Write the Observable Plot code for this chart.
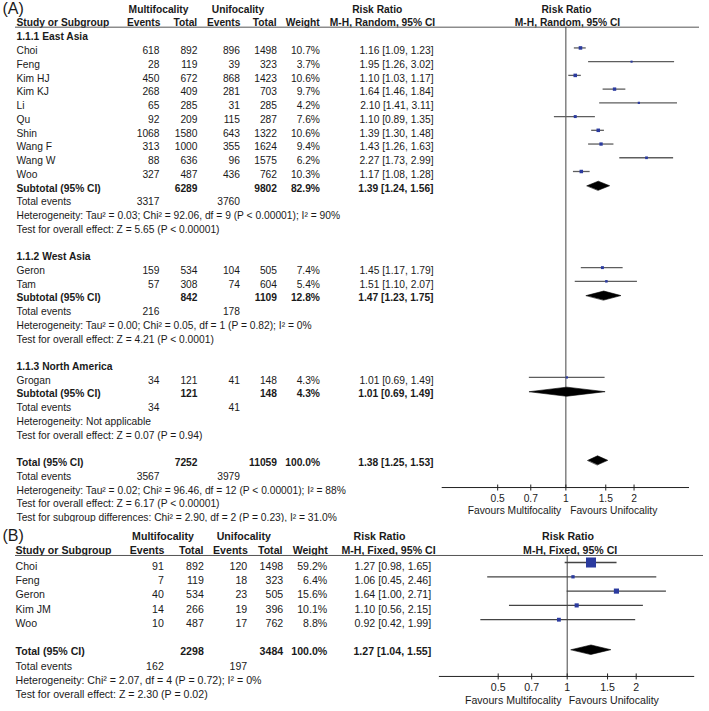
<!DOCTYPE html>
<html><head><meta charset="utf-8">
<script src="https://cdn.jsdelivr.net/npm/d3@7"></script>
<script src="https://cdn.jsdelivr.net/npm/@observablehq/plot@0.6"></script>
<style>
body{margin:0;background:#fff;}
#chart svg{display:block;overflow:hidden;}
</style></head><body><div id="chart"></div>
<script>
// ---------- Panel A data ----------
const subgroupsA = ["1.1.1 East Asia", "1.1.2 West Asia", "1.1.3 North America"];
const studiesA = ["Choi","Feng","Kim HJ","Kim KJ","Li","Qu","Shin","Wang F","Wang W","Woo","Geron","Tam","Grogan"];
const subgroupOfA = [0,0,0,0,0,0,0,0,0,0,1,1,2];
const multiEventsA = [618,28,450,268,65,92,1068,313,88,327,159,57,34];
const multiTotalA  = [892,119,672,409,285,209,1580,1000,636,487,534,308,121];
const uniEventsA   = [896,39,868,281,31,115,643,355,96,436,104,74,41];
const uniTotalA    = [1498,323,1423,703,285,287,1322,1624,1575,762,505,604,148];
const weightA      = [10.7,3.7,10.6,9.7,4.2,7.6,10.6,9.4,6.2,10.3,7.4,5.4,4.3];
const rrA          = [1.16,1.95,1.10,1.64,2.10,1.10,1.39,1.43,2.27,1.17,1.45,1.51,1.01];
const loA          = [1.09,1.26,1.03,1.46,1.41,0.89,1.30,1.26,1.73,1.08,1.17,1.10,0.69];
const hiA          = [1.23,3.02,1.17,1.84,3.11,1.35,1.48,1.63,2.99,1.28,1.79,2.07,1.49];
const subMultiTotalA  = [6289, 842, 121];
const subUniTotalA    = [9802, 1109, 148];
const subWeightA      = [82.9, 12.8, 4.3];
const subRrA          = [1.39, 1.47, 1.01];
const subLoA          = [1.24, 1.23, 0.69];
const subHiA          = [1.56, 1.75, 1.49];
const subMultiEventsA = [3317, 216, 34];
const subUniEventsA   = [3760, 178, 41];
const subHetA = [
  "Heterogeneity: Tau² = 0.03; Chi² = 92.06, df = 9 (P < 0.00001); I² = 90%",
  "Heterogeneity: Tau² = 0.00; Chi² = 0.05, df = 1 (P = 0.82); I² = 0%",
  "Heterogeneity: Not applicable"];
const subTestA = [
  "Test for overall effect: Z = 5.65 (P < 0.00001)",
  "Test for overall effect: Z = 4.21 (P < 0.0001)",
  "Test for overall effect: Z = 0.07 (P = 0.94)"];
const totalCountsA = [7252, 11059];
const totalWeightA = 100.0;
const totalRrA = [1.38, 1.25, 1.53];
const totalEventsA = [3567, 3979];
const totalTextsA = [
  "Heterogeneity: Tau² = 0.02; Chi² = 96.46, df = 12 (P < 0.00001); I² = 88%",
  "Test for overall effect: Z = 6.17 (P < 0.00001)",
  "Test for subgroup differences: Chi² = 2.90, df = 2 (P = 0.23), I² = 31.0%"];

// ---------- Panel B data ----------
const studiesB = ["Choi","Feng","Geron","Kim JM","Woo"];
const multiEventsB = [91,7,40,14,10];
const multiTotalB  = [892,119,534,266,487];
const uniEventsB   = [120,18,23,19,17];
const uniTotalB    = [1498,323,505,396,762];
const weightB      = [59.2,6.4,15.6,10.1,8.8];
const rrB          = [1.27,1.06,1.64,1.10,0.92];
const loB          = [0.98,0.45,1.00,0.56,0.42];
const hiB          = [1.65,2.46,2.71,2.15,1.99];
const totalCountsB = [2298, 3484];
const totalWeightB = 100.0;
const totalRrB = [1.27, 1.04, 1.55];
const totalEventsB = [162, 197];
const totalTextsB = [
  "Heterogeneity: Chi² = 2.07, df = 4 (P = 0.72); I² = 0%",
  "Test for overall effect: Z = 2.30 (P = 0.02)"];

// ---------- labels ----------
const groupHeaders = ["Multifocality", "Unifocality", "Risk Ratio", "Risk Ratio"];
const colHeaders = ["Study or Subgroup", "Events", "Total", "Events", "Total", "Weight"];
const methodA = "M-H, Random, 95% CI";
const methodB = "M-H, Fixed, 95% CI";
const axisTicks = [0.5, 0.7, 1, 1.5, 2];
const favours = ["Favours Multifocality", "Favours Unifocality"];

const f2 = v => v.toFixed(2);
const rrText = (r, l, h) => `${f2(r)} [${f2(l)}, ${f2(h)}]`;
const pct = w => `${w.toFixed(1)}%`;

// ---------- build rows A ----------
const rowsA = [], studyRowsA = [], summaryA = [];
{
  let r = 0;
  subgroupsA.forEach((g, gi) => {
    rowsA.push({row: r++, name: g, bold: true});
    studiesA.forEach((s, i) => {
      if (subgroupOfA[i] !== gi) return;
      const o = {row: r++, name: s, mE: String(multiEventsA[i]), mT: String(multiTotalA[i]),
        uE: String(uniEventsA[i]), uT: String(uniTotalA[i]), w: pct(weightA[i]),
        rrT: rrText(rrA[i], loA[i], hiA[i]), rr: rrA[i], lo: loA[i], hi: hiA[i], weight: weightA[i]};
      rowsA.push(o); studyRowsA.push(o);
    });
    const sub = {row: r++, name: "Subtotal (95% CI)", mT: String(subMultiTotalA[gi]), uT: String(subUniTotalA[gi]),
      w: pct(subWeightA[gi]), rrT: rrText(subRrA[gi], subLoA[gi], subHiA[gi]), bold: true,
      rr: subRrA[gi], lo: subLoA[gi], hi: subHiA[gi]};
    rowsA.push(sub); summaryA.push(sub);
    rowsA.push({row: r++, name: "Total events", mE: String(subMultiEventsA[gi]), uE: String(subUniEventsA[gi])});
    rowsA.push({row: r++, name: subHetA[gi]});
    rowsA.push({row: r++, name: subTestA[gi]});
    r++;
  });
  const tot = {row: r++, name: "Total (95% CI)", mT: String(totalCountsA[0]), uT: String(totalCountsA[1]),
    w: pct(totalWeightA), rrT: rrText(...totalRrA), bold: true, rr: totalRrA[0], lo: totalRrA[1], hi: totalRrA[2]};
  rowsA.push(tot); summaryA.push(tot);
  rowsA.push({row: r++, name: "Total events", mE: String(totalEventsA[0]), uE: String(totalEventsA[1])});
  totalTextsA.forEach(t => rowsA.push({row: r++, name: t}));
}

// ---------- build rows B ----------
const rowsB = [], studyRowsB = [], summaryB = [];
{
  let r = 0;
  studiesB.forEach((s, i) => {
    const o = {row: r++, name: s, mE: String(multiEventsB[i]), mT: String(multiTotalB[i]),
      uE: String(uniEventsB[i]), uT: String(uniTotalB[i]), w: pct(weightB[i]),
      rrT: rrText(rrB[i], loB[i], hiB[i]), rr: rrB[i], lo: loB[i], hi: hiB[i], weight: weightB[i]};
    rowsB.push(o); studyRowsB.push(o);
  });
  r++;
  const tot = {row: r++, name: "Total (95% CI)", mT: String(totalCountsB[0]), uT: String(totalCountsB[1]),
    w: pct(totalWeightB), rrT: rrText(...totalRrB), bold: true, rr: totalRrB[0], lo: totalRrB[1], hi: totalRrB[2]};
  rowsB.push(tot); summaryB.push(tot);
  rowsB.push({row: r++, name: "Total events", mE: String(totalEventsB[0]), uE: String(totalEventsB[1])});
  totalTextsB.forEach(t => rowsB.push({row: r++, name: t}));
}

// ---------- panel builder ----------
function panel(cfg) {
  const ML = 15;
  const marks = [];
  const textCol = (key, pos, anchor) => {
    for (const bold of [false, true]) {
      const sub = cfg.rows.filter(d => d[key] != null && !!d.bold === bold);
      marks.push(Plot.text(sub, {y: "row", text: key, frameAnchor: "left", dx: pos - ML,
        textAnchor: anchor, fontWeight: bold ? "bold" : "normal", fill: "#1a1a1a"}));
    }
  };
  const c = cfg.cols;
  textCol("name", c.name, "start");
  textCol("mE", c.mE, "end");
  textCol("mT", c.mT, "end");
  textCol("uE", c.uE, "end");
  textCol("uT", c.uT, "end");
  textCol("w", c.w, "end");
  textCol("rrT", c.rr, "end");

  // headers
  const h = cfg.head;
  const top = groupHeaders.map((t, i) => ({t, x: h.top[i]}));
  top.forEach(d => marks.push(Plot.text([d.t], {y: cfg.hRow1, text: d => d, frameAnchor: "left",
    dx: d.x - ML, textAnchor: "middle", fontWeight: "bold", fill: "#1a1a1a"})));
  colHeaders.forEach((t, i) => marks.push(Plot.text([t], {y: cfg.hRow2, text: d => d, frameAnchor: "left",
    dx: h.sub[i] - ML, textAnchor: i === 0 ? "start" : "end", fontWeight: "bold", fill: "#1a1a1a"})));
  h.method.forEach(x => marks.push(Plot.text([cfg.method], {y: cfg.hRow2, text: d => d, frameAnchor: "left",
    dx: x - ML, textAnchor: "middle", fontWeight: "bold", fill: "#1a1a1a"})));
  marks.push(Plot.ruleY([cfg.ruleRow], {stroke: "#555", strokeWidth: 1}));
  marks.push(Plot.text([cfg.label], {y: cfg.labelRow, text: d => d, frameAnchor: "left", dx: 2 - ML,
    textAnchor: "start", fontSize: 16, fill: "#1a1a1a"}));

  // forest
  marks.push(Plot.ruleX([1], {y1: cfg.ruleRow, y2: cfg.axisRow, stroke: "#444", strokeWidth: 1}));
  marks.push(Plot.ruleY(cfg.studies, {y: "row", x1: "lo", x2: "hi", stroke: cfg.ciColor, strokeWidth: 1.3, dy: cfg.dy}));
  marks.push(Plot.dot(cfg.studies, {x: "rr", y: "row", r: "weight", symbol: "square", fill: "#2b3b9f", dy: cfg.dy}));
  const dpts = [];
  cfg.summary.forEach((d, i) => {
    dpts.push({x: d.lo, y: d.row, z: i}, {x: d.rr, y: d.row - cfg.dh, z: i},
              {x: d.hi, y: d.row, z: i}, {x: d.rr, y: d.row + cfg.dh, z: i});
  });
  marks.push(Plot.line(dpts, {x: "x", y: "y", z: "z", curve: "linear-closed", fill: "black", stroke: "black", strokeWidth: 0.6, dy: cfg.dyD}));

  // axis
  marks.push(Plot.ruleY([cfg.axisRow], {x1: cfg.xDomain[0], x2: cfg.xDomain[1], stroke: "#222", strokeWidth: 1}));
  marks.push(Plot.ruleX(axisTicks, {x: d => d, y1: cfg.axisRow - 2.5 / cfg.pitch, y2: cfg.axisRow + 3.5 / cfg.pitch, stroke: "#222"}));
  marks.push(Plot.text(axisTicks, {x: d => d, y: cfg.axisRow, dy: cfg.tickDy, text: d => String(d), fill: "#1a1a1a"}));
  marks.push(Plot.text([favours[0]], {x: () => 1, y: cfg.axisRow, dy: cfg.favDy, dx: cfg.favDx[0], text: d => d, textAnchor: "end", fill: "#1a1a1a"}));
  marks.push(Plot.text([favours[1]], {x: () => 1, y: cfg.axisRow, dy: cfg.favDy, dx: cfg.favDx[1], text: d => d, textAnchor: "start", fill: "#1a1a1a"}));

  return Plot.plot({
    width: 709, height: cfg.height,
    marginLeft: ML, marginRight: cfg.marginRight, marginTop: 0, marginBottom: 0,
    style: {fontFamily: "'Liberation Sans', Arial, Helvetica, sans-serif", fontSize: cfg.fontSize, background: "#fff", overflow: "hidden"},
    x: {type: "log", domain: cfg.xDomain, range: cfg.xRange, axis: null},
    y: {type: "linear", domain: cfg.yDomain, range: cfg.yRange, axis: null},
    r: {type: "sqrt", domain: cfg.rDomain, range: cfg.rRange},
    marks
  });
}

const pitchA = 13.73;
const chartA = panel({
  label: "(A)", rows: rowsA, studies: studyRowsA, summary: summaryA, method: methodA,
  height: 522, marginRight: 10, fontSize: "10.25px",
  cols: {name: 16, mE: 159, mT: 197, uE: 239.5, uT: 276.5, w: 319.5, rr: 433},
  head: {top: [158, 237.5, 376.7, 566], sub: [16, 160, 196.7, 240, 276, 319.2], method: [382, 567]},
  hRow1: -2.0, hRow2: -1.05, ruleRow: -0.73, labelRow: -2.05,
  xDomain: [0.2845, 3.514], xRange: [441.7, 689],
  yDomain: [0, 35], yRange: [36.7, 36.7 + 35 * pitchA], pitch: pitchA,
  rDomain: [0, 10.7], rRange: [0, 2.0],
  axisRow: 32.8, tickDy: 10.8, favDy: 23.3, favDx: [-4.7, 4.3],
  dy: -3, dyD: -2.5, dh: 0.33, ciColor: "#5e5e5e"
});

const pitchB = 14.3;
const chartB = panel({
  label: "(B)", rows: rowsB, studies: studyRowsB, summary: summaryB, method: methodB,
  height: 189, marginRight: 6, fontSize: "10.6px",
  cols: {name: 15, mE: 163.3, mT: 203.3, uE: 246.7, uT: 282.7, w: 326.7, rr: 430.7},
  head: {top: [162.5, 243.3, 379, 567.5], sub: [15, 164, 203, 247.3, 282, 327.3], method: [388, 569.7]},
  hRow1: -2.08, hRow2: -1.06, ruleRow: -0.75, labelRow: -2.11,
  xDomain: [0.277, 3.6], xRange: [438.9, 694.2],
  yDomain: [0, 9], yRange: [43.7, 43.7 + 9 * pitchB], pitch: pitchB,
  rDomain: [0, 59.2], rRange: [0, 5.65],
  axisRow: 7.71, tickDy: 10.9, favDy: 24, favDx: [-5.7, 1.6],
  dy: -3.7, dyD: -2.3, dh: 0.33, ciColor: "#444"
});

const root = document.getElementById("chart");
root.appendChild(chartA);
root.appendChild(chartB);
</script>
</body></html>
